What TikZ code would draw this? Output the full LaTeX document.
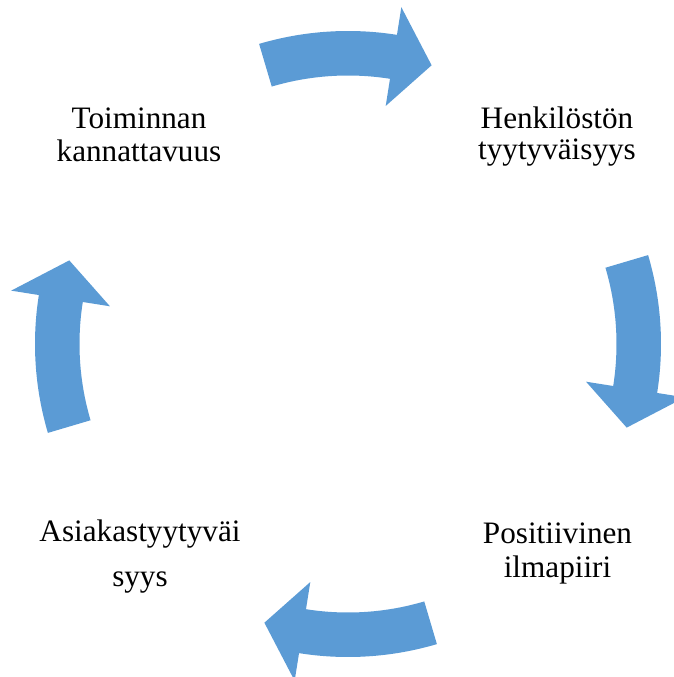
\documentclass[tikz,border=0pt]{standalone}
\usepackage{fontspec}
\setmainfont{Liberation Serif}
\definecolor{cycleblue}{HTML}{5B9BD5}
\begin{document}
\begin{tikzpicture}[x=1pt,y=1pt,
  cyclearrow/.style={fill=cycleblue, draw=none},
  lbl/.style={anchor=base, inner sep=0pt, font=\fontsize{31.2}{36}\selectfont, text=black}]
\useasboundingbox (-348,-333) rectangle (326,344);
% curved block arrows (clockwise cycle)
\foreach \c in {90,0,-90,180}{
  \fill[cyclearrow] (\c+16.5:313) arc[start angle=\c+16.5, end angle=\c-9, radius=313]
    -- (\c-9:341) -- (\c-16.7:291) -- (\c-9:241) -- (\c-9:268.5)
    arc[start angle=\c-9, end angle=\c+16.5, radius=268.5] -- cycle;
}
% labels
\node[lbl] (toim1) at (-209,215) {Toiminnan};
\node[lbl] (toim2) at (-209,182) {kannattavuus};
\node[lbl] (henk1) at (209,215) {Henkilöstön};
\node[lbl] (henk2) at (209,184.5) {tyytyväisyys};
\node[lbl] (pos1) at (209.5,-199) {Positiivinen};
\node[lbl] (pos2) at (209.5,-233) {ilmapiiri};
\node[lbl] (asia1) at (-208,-197) {Asiakastyytyväi};
\node[lbl] (asia2) at (-208,-242) {syys};
\end{tikzpicture}
\end{document}
